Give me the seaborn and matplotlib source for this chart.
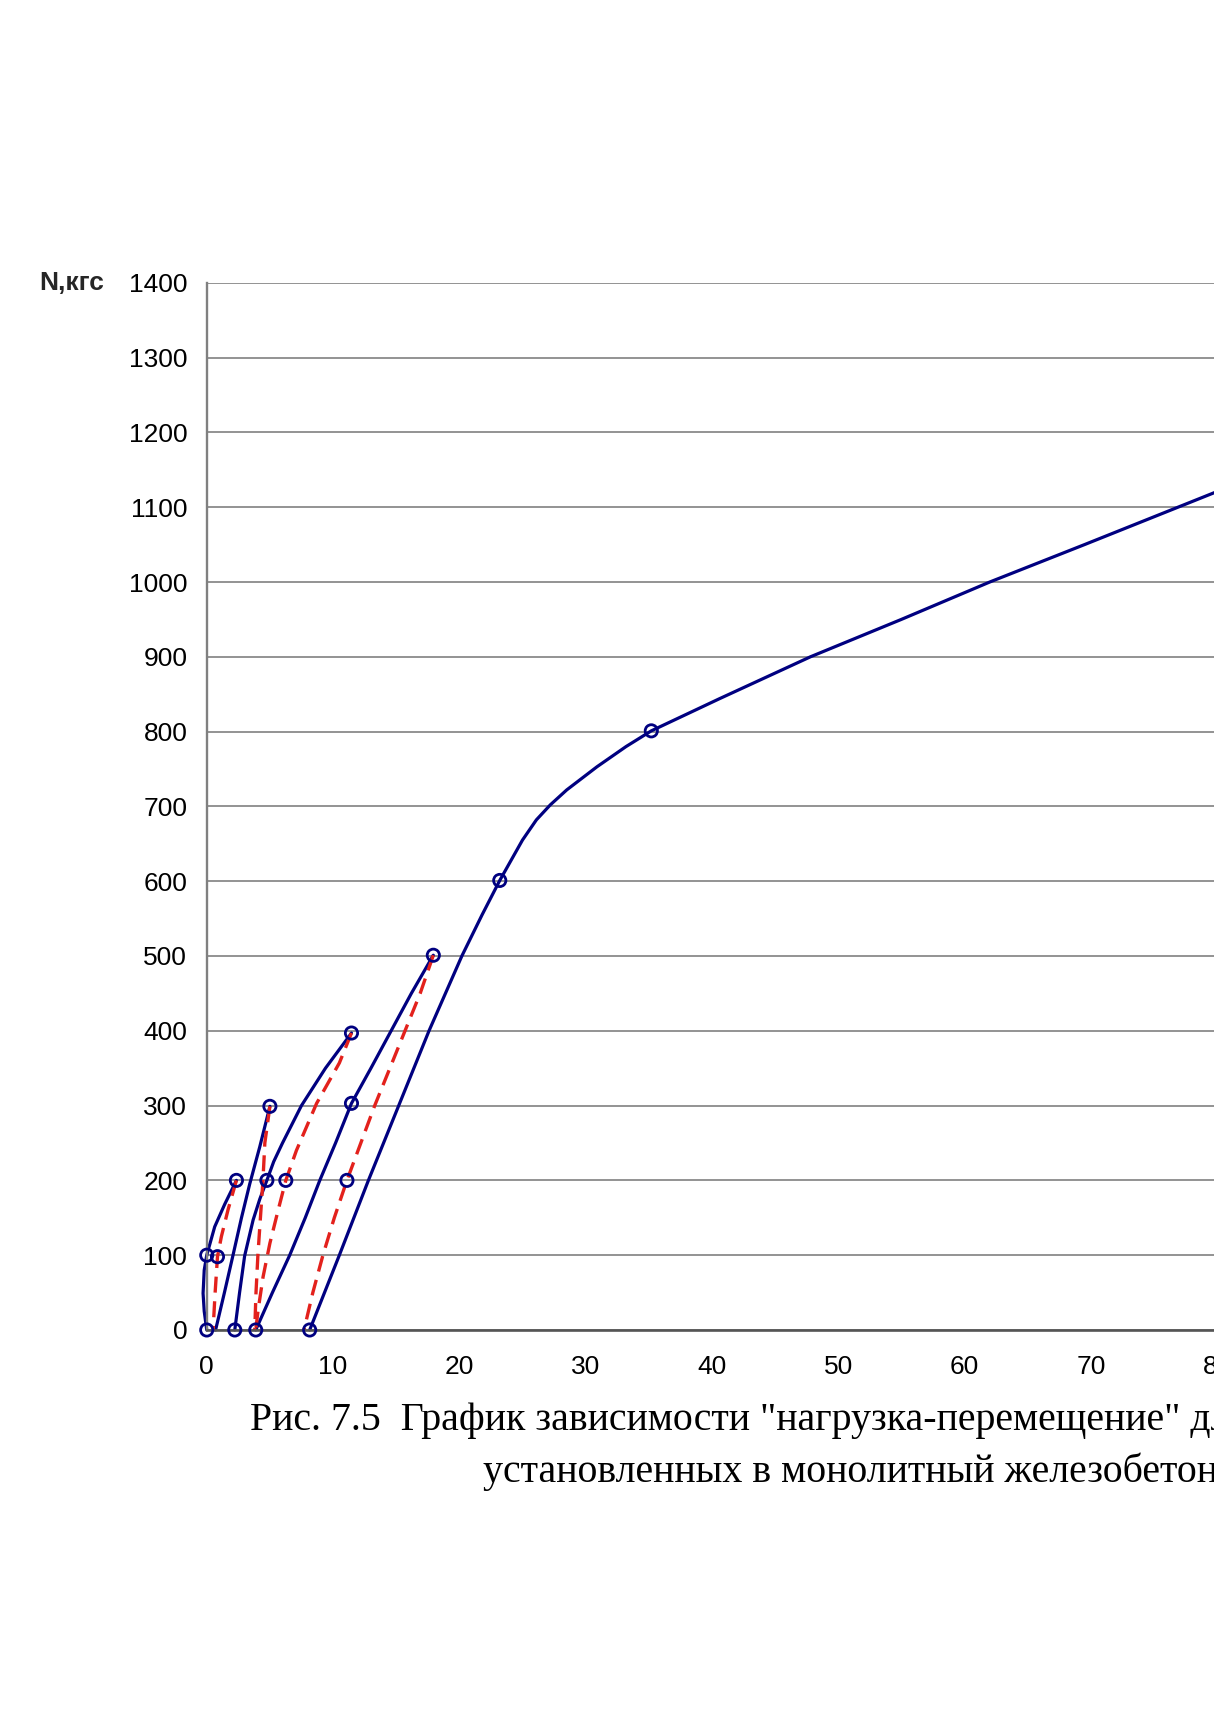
import numpy as np
import pandas as pd
import matplotlib
matplotlib.use("Agg")
import matplotlib.pyplot as plt
import seaborn as sns

# loading branches (solid navy)
load1_x = [0, -0.2, -0.29, -0.2, 0, 0.63, 1.42, 2.35]
load1_y = [0, 25, 49, 80, 100, 138, 168, 200]
load2_x = [0.7, 1.4, 2.08, 2.75, 3.4, 4.2, 4.6, 5.0]
load2_y = [0, 50, 100, 150, 195, 245, 272, 299]
load3_x = [2.22, 2.6, 3.0, 3.67, 4.2, 4.76, 5.3, 6.0, 7.5, 9.4, 11.46]
load3_y = [0, 50, 99, 147, 175, 200, 225, 250, 300, 350, 397]
load4_x = [3.88, 5.2, 6.57, 7.8, 8.95, 10.2, 11.46, 13.0, 14.6, 16.2, 17.94]
load4_y = [0, 50, 100, 150, 200, 250, 303, 350, 400, 450, 501]
load5_x = [8.15, 10.5, 12.8, 15.2, 17.6, 20.2, 21.8, 23.2, 25.0, 26.1, 27.2, 28.5,
           30.9, 33.2, 35.2, 40.6, 47.8, 55.0, 62.0, 69.5, 76.9, 84.0]
load5_y = [0, 100, 200, 300, 400, 500, 555, 601, 655, 682, 702, 722,
           753, 780, 801, 844, 900, 950, 1000, 1050, 1100, 1148]

# unloading branches (red dashed)
unload1_x = [2.35, 1.69, 1.16, 0.85, 0.66, 0.5]
unload1_y = [200, 161, 125, 98, 49, 0]
unload2_x = [5.0, 4.6, 4.45, 4.25, 4.05, 3.9, 3.8]
unload2_y = [299, 250, 200, 150, 100, 50, 0]
unload3_x = [11.46, 10.5, 8.7, 7.1, 6.26, 5.65, 5.0, 4.46, 4.07, 3.88]
unload3_y = [397, 357, 303, 240, 200, 160, 116, 71, 27, 0]
unload4_x = [17.94, 16.9, 15.7, 14.5, 13.3, 12.2, 11.1, 10.1, 9.2, 8.4, 7.7]
unload4_y = [501, 450, 400, 350, 300, 250, 200, 150, 100, 50, 0]

# measured points (open circles)
mark_x = [0, 0, 0.85, 2.35, 2.22, 5.0, 4.76, 6.26, 3.88, 11.46, 11.46, 11.1, 8.15, 17.94, 23.2, 35.2]
mark_y = [0, 100, 98, 200, 0, 299, 200, 200, 0, 397, 303, 200, 0, 501, 601, 801]

x_ticks = list(range(0, 100, 10))
y_ticks = list(range(0, 1500, 100))
y_label = "N,кгс"
caption1 = 'Рис. 7.5  График зависимости "нагрузка-перемещение" для'
caption2 = "установленных в монолитный железобетон"

NAVY = "#000080"
RED = "#e3211c"


def to_frame(curves):
    parts = []
    for i, (xs, ys) in enumerate(curves):
        parts.append(pd.DataFrame({"x": xs, "y": ys, "curve": i}))
    return pd.concat(parts, ignore_index=True)


load_df = to_frame([(load1_x, load1_y), (load2_x, load2_y), (load3_x, load3_y),
                    (load4_x, load4_y), (load5_x, load5_y)])
unload_df = to_frame([(unload1_x, unload1_y), (unload2_x, unload2_y),
                      (unload3_x, unload3_y), (unload4_x, unload4_y)])
mark_df = pd.DataFrame({"x": mark_x, "y": mark_y})

sns.set_style("white")
plt.rcParams["font.family"] = ["Liberation Sans", "DejaVu Sans"]

fig = plt.figure(figsize=(12.14, 17.34), dpi=100)
# axes runs past the right edge of the page, like the cropped scan
ax = fig.add_axes([0.1703, 0.2330, 0.9363, 0.6039])

sns.lineplot(data=load_df, x="x", y="y", units="curve", estimator=None, sort=False,
             color=NAVY, lw=2.3, ax=ax, legend=False)
sns.lineplot(data=unload_df, x="x", y="y", units="curve", estimator=None, sort=False,
             color=RED, lw=2.4, linestyle=(0, (4.8, 2.6)), ax=ax, legend=False)
for ln in ax.lines:
    ln.set_clip_on(False)
    ln.set_solid_joinstyle("round")
sns.scatterplot(data=mark_df, x="x", y="y", marker="o", s=78, color=NAVY,
                facecolors="none", edgecolor=NAVY, linewidth=2.0, ax=ax,
                zorder=5, clip_on=False)

ax.set_xlim(0, 90)
ax.set_ylim(0, 1400)
ax.set_xticks(x_ticks)
ax.set_yticks(y_ticks)
ax.set_xlabel("")
ax.set_ylabel("")
ax.grid(axis="y", color="#8a8a8a", lw=1.3)
ax.grid(axis="x", visible=False)
ax.set_axisbelow(True)

for s in ["top", "right"]:
    ax.spines[s].set_visible(False)
ax.spines["left"].set_color("#808080")
ax.spines["left"].set_linewidth(1.7)
ax.spines["bottom"].set_color("#555555")
ax.spines["bottom"].set_linewidth(1.9)

ax.tick_params(axis="both", direction="out", length=6, width=1.3, colors="#777777",
               labelsize=19, labelcolor="black")
ax.tick_params(axis="y", pad=8)
ax.tick_params(axis="x", pad=12)

fig.text(39 / 1214, 1 - 283 / 1734, y_label, fontsize=19, fontweight="bold",
         ha="left", va="center")

fig.text(250 / 1214, 1 - 1430 / 1734, caption1, family="Liberation Serif",
         fontsize=28.7, color="black", ha="left", va="baseline")
fig.text(483 / 1214, 1 - 1482 / 1734, caption2, family="Liberation Serif",
         fontsize=28.7, color="black", ha="left", va="baseline")

fig.savefig("out.png", dpi=100)
